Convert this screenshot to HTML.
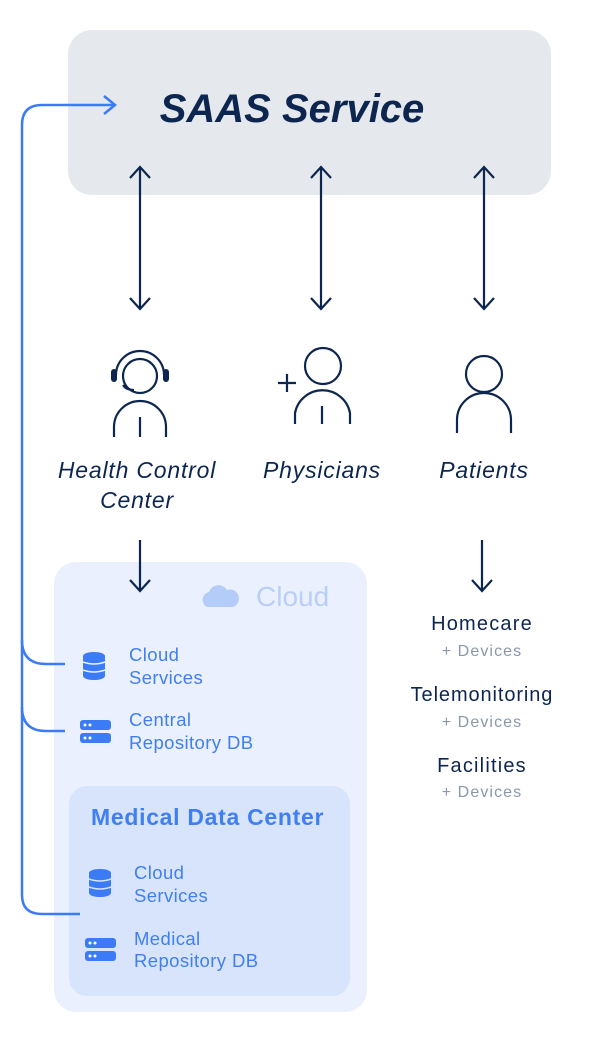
<!DOCTYPE html>
<html><head><meta charset="utf-8"><style>
html,body{margin:0;padding:0;background:#fff;}
svg{display:block;font-family:"Liberation Sans",sans-serif;}
</style></head><body>
<svg width="606" height="1045" viewBox="0 0 606 1045" xmlns="http://www.w3.org/2000/svg">
<rect x="68" y="30" width="483" height="165" rx="24" fill="#e5e9ee"/>
<text x="292" y="122" text-anchor="middle" font-size="40" font-weight="bold" font-style="italic" fill="#0d2650">SAAS Service</text>

<rect x="54" y="562" width="313" height="450" rx="22" fill="#eaf0fd"/>
<rect x="69" y="786" width="281" height="210" rx="18" fill="#d8e4fc"/>

<g fill="none" stroke="#3b7bf5" stroke-width="2.5">
<path d="M115 105 H42 Q22 105 22 125 V895 Q22 914 42 914 H80"/>
<path d="M22 640 Q22 664 46 664 H65"/>
<path d="M22 707 Q22 731 46 731 H65"/>
<path d="M104 96 L115 105 L104 114"/>
</g>

<g fill="none" stroke="#0d2650" stroke-width="2.2">
<path d="M140 168 V308 M130 178 L140 167 L150 178 M130 298 L140 309 L150 298"/>
<path d="M321 168 V308 M311 178 L321 167 L331 178 M311 298 L321 309 L331 298"/>
<path d="M484 168 V308 M474 178 L484 167 L494 178 M474 298 L484 309 L494 298"/>
<path d="M140 540 V590 M130 580 L140 591 L150 580"/>
<path d="M482 540 V590 M472 580 L482 591 L492 580"/>
<circle cx="140" cy="376" r="17"/>
<path d="M116 375 A24 24 0 0 1 164 375"/>
<path d="M123 385 Q126 390 134 390"/>
<path d="M114 437 V427 A26 26 0 0 1 166 427 V437 M140 417 V437"/>
<circle cx="323" cy="366" r="18"/>
<path d="M295 424 V413 A28 28 0 0 1 350 413 V424 M322 406 V424 M278 383 H296 M287 374 V392"/>
<circle cx="484" cy="374" r="18"/>
<path d="M457 433 V420 A27 27 0 0 1 511 420 V433"/>
</g>
<rect x="111" y="369" width="6" height="13" rx="3" fill="#0d2650"/>
<rect x="163" y="369" width="6" height="13" rx="3" fill="#0d2650"/>

<g font-size="23" font-style="italic" fill="#0d2650" text-anchor="middle" letter-spacing="0.8">
<text x="137" y="478">Health Control</text>
<text x="137" y="508">Center</text>
<text x="322" y="478">Physicians</text>
<text x="484" y="478">Patients</text>
</g>

<path d="M207 607 a8 8 0 0 1 2 -15 a10 10 0 0 1 18 -2 a8 8 0 0 1 6 17 z" fill="#b3cdf8"/>
<text x="256" y="606" font-size="28" fill="#b9cff8">Cloud</text>

<text x="91" y="825" font-size="23" font-weight="bold" fill="#3f7ff0" letter-spacing="0.7">Medical Data Center</text>

<g fill="#3b7bf5">
<g transform="translate(94,666)">
<ellipse cx="0" cy="-10" rx="11" ry="4"/><rect x="-11" y="-10" width="22" height="20"/><ellipse cx="0" cy="10" rx="11" ry="4"/>
</g>
<g transform="translate(100,883)">
<ellipse cx="0" cy="-10" rx="11" ry="4"/><rect x="-11" y="-10" width="22" height="20"/><ellipse cx="0" cy="10" rx="11" ry="4"/>
</g>
<rect x="80" y="720" width="31" height="10" rx="3"/><rect x="80" y="733" width="31" height="10" rx="3"/>
<rect x="85" y="938" width="31" height="10" rx="3"/><rect x="85" y="951" width="31" height="10" rx="3"/>
</g>
<g stroke="#eaf0fd" stroke-width="1.5" fill="none">
<path d="M83 662 Q94 666 105 662 M83 670 Q94 674 105 670"/>
</g>
<g stroke="#d8e4fc" stroke-width="1.5" fill="none">
<path d="M89 879 Q100 883 111 879 M89 887 Q100 891 111 887"/>
</g>
<g fill="#fff">
<circle cx="85" cy="725" r="1.5"/><circle cx="90" cy="725" r="1.5"/><circle cx="85" cy="738" r="1.5"/><circle cx="90" cy="738" r="1.5"/>
<circle cx="90" cy="943" r="1.5"/><circle cx="95" cy="943" r="1.5"/><circle cx="90" cy="956" r="1.5"/><circle cx="95" cy="956" r="1.5"/>
</g>

<g font-size="18.5" fill="#3f7ff0" letter-spacing="0.4">
<text x="129" y="661">Cloud</text><text x="129" y="684">Services</text>
<text x="129" y="726">Central</text><text x="129" y="749">Repository DB</text>
<text x="134" y="879">Cloud</text><text x="134" y="902">Services</text>
<text x="134" y="945">Medical</text><text x="134" y="967">Repository DB</text>
</g>

<g text-anchor="middle">
<text x="482" y="630" font-size="20" fill="#0d2650" letter-spacing="1.2">Homecare</text>
<text x="482" y="656" font-size="16" fill="#8a97ac" letter-spacing="1.1">+ Devices</text>
<text x="482" y="701" font-size="20" fill="#0d2650" letter-spacing="0.9">Telemonitoring</text>
<text x="482" y="727" font-size="16" fill="#8a97ac" letter-spacing="1.1">+ Devices</text>
<text x="482" y="772" font-size="20" fill="#0d2650" letter-spacing="1.2">Facilities</text>
<text x="482" y="797" font-size="16" fill="#8a97ac" letter-spacing="1.1">+ Devices</text>
</g>
</svg>
</body></html>
